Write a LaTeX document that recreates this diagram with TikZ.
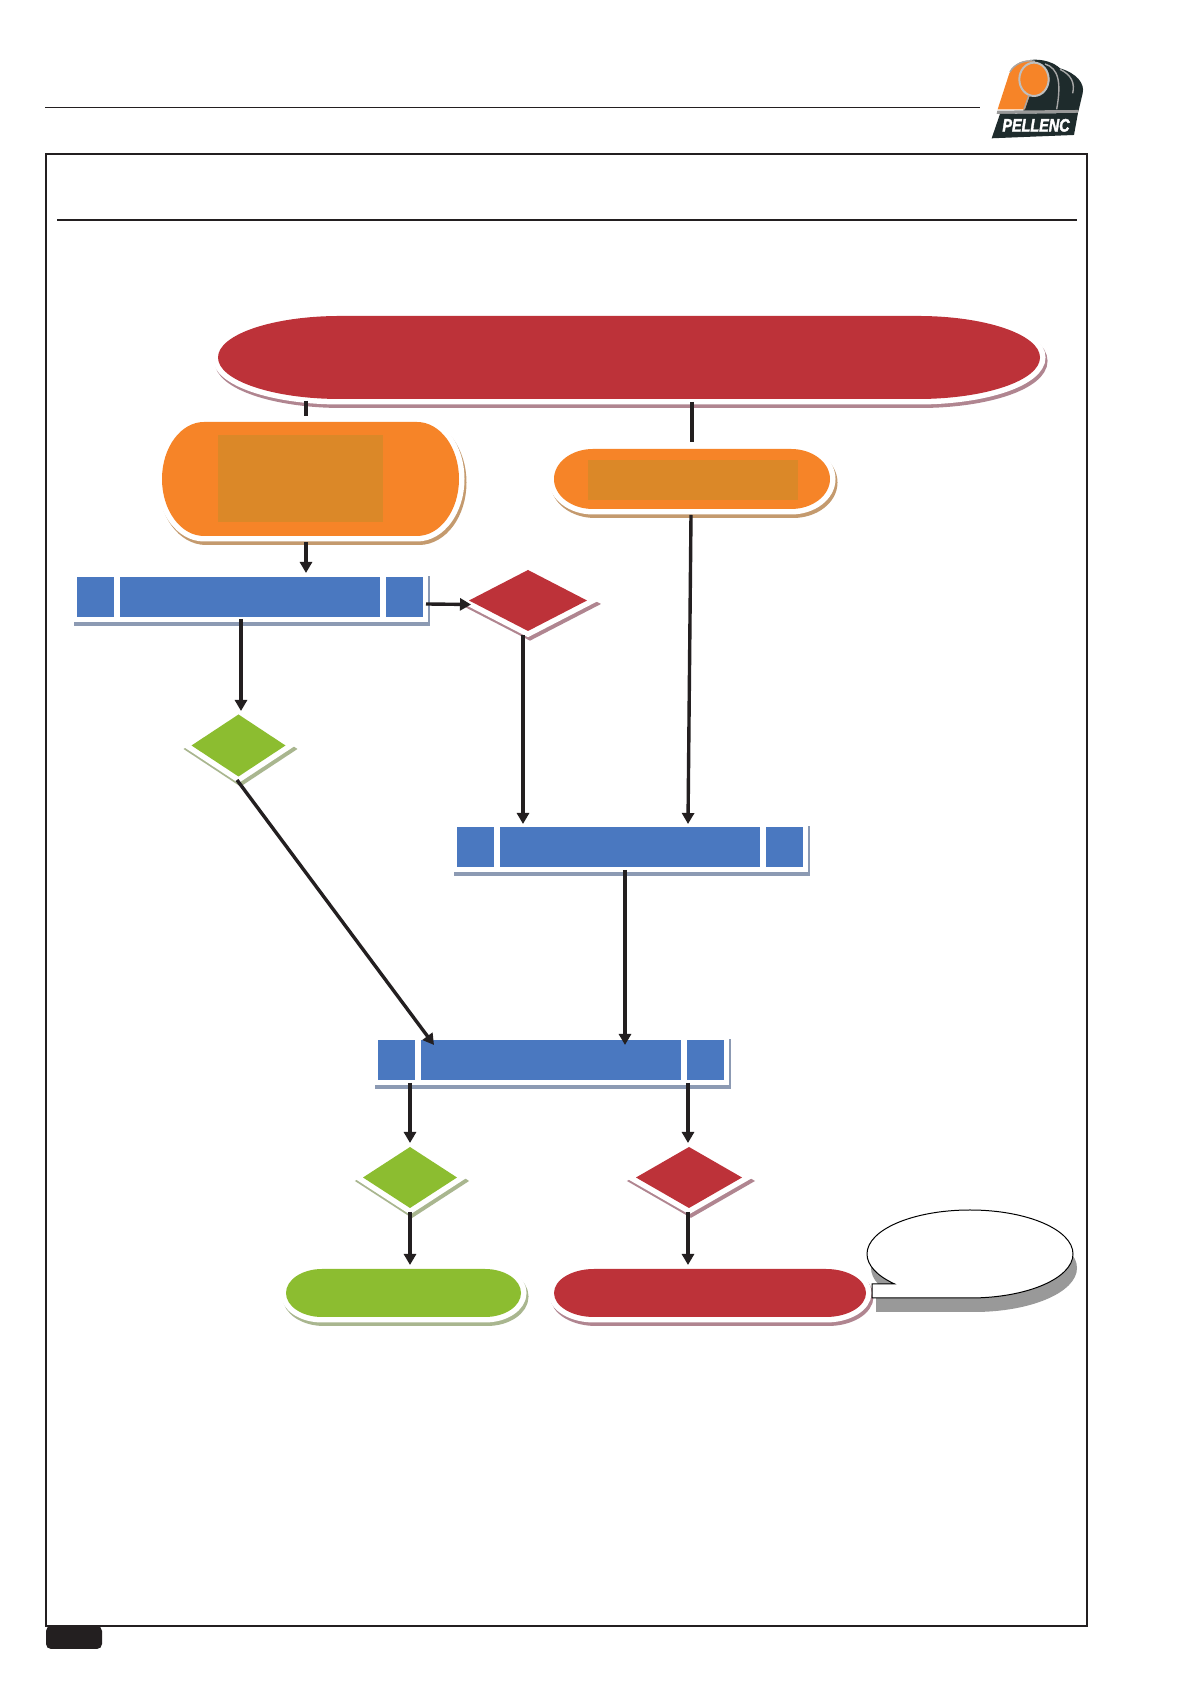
\documentclass[tikz,border=0pt]{standalone}
\usepackage{fontspec}
\setsansfont{Liberation Sans}
\newfontfamily\logofont{Liberation Sans}[BoldItalicFeatures={FakeBold=2.5}]
\usepackage{xcolor}
\definecolor{pelred}{HTML}{BD3239}
\definecolor{pelorange}{HTML}{F68428}
\definecolor{pelamber}{HTML}{DB8828}
\definecolor{pelblue}{HTML}{4A78C0}
\definecolor{pelgreen}{HTML}{8CBD30}
\definecolor{pelink}{HTML}{231F20}
\definecolor{logodark}{HTML}{1E2B2C}
\definecolor{redshade}{HTML}{B08590}
\definecolor{orangeshade}{HTML}{C49A6E}
\definecolor{blueshade}{HTML}{8C9AB3}
\definecolor{greenshade}{HTML}{A9B68F}
\usetikzlibrary{positioning,arrows.meta,shapes.geometric}
\tikzset{
  halo/.style ={preaction={draw=#1, fill=#1, line width=11pt, transform canvas={shift={(2pt,-3.5pt)}}},
                preaction={draw=white, fill=white, line width=11pt}},
  dmd/.style  ={diamond, inner sep=0pt, outer sep=0pt, aspect=2},
  barback/.style={rectangle, fill=white, minimum width=356pt, minimum height=50pt, inner sep=0pt,
                outer sep=0pt, preaction={fill=blueshade, transform canvas={shift={(2pt,-4pt)}}}},
  barcell/.style={rectangle, fill=pelblue, minimum height=40pt, inner sep=0pt, outer sep=0pt},
  patch/.style={rectangle, fill=pelamber, inner sep=0pt, outer sep=0pt},
  arr/.style  ={-{Triangle[length=11pt,width=12pt]}, line width=3.4pt, draw=pelink},
  stub/.style ={line width=3.6pt, draw=pelink},
  rule/.style ={line width=1.7pt, draw=pelink},
  logoline/.style={line width=1.4pt, draw=black!35},
}
% name, centre, width, height, end radius, fill, shade
\newcommand{\pillnode}[7]{
  \pgfmathsetmacro{\pillx}{#3/2-#5}
  \pgfmathsetmacro{\pilly}{#4/2}
  \path[shift={(#2)}, fill=#6, halo=#7] (-\pillx,\pilly) -- (\pillx,\pilly)
    arc[start angle=90, end angle=-90, x radius=#5, y radius=\pilly]
    -- (-\pillx,-\pilly)
    arc[start angle=270, end angle=90, x radius=#5, y radius=\pilly] -- cycle;
  \node[rectangle, inner sep=0pt, outer sep=0pt, minimum width=#3pt, minimum height=#4pt] (#1) at (#2) {};
}
\begin{document}
\begin{tikzpicture}[x=1pt,y=1pt]
  \useasboundingbox[fill=white] (0,0) rectangle (1190,1684);
  % page furniture
  \draw[rule] (45,1576.5) -- (980,1576.5);
  \draw[rule] (46,58) rectangle (1087,1530);
  \draw[rule] (57,1464) -- (1077,1464);
  \fill[pelink, rounded corners=5pt] (46,58) -- (46,35) -- (102,35) -- (102,58) -- cycle;
  % logo
  \begin{scope}[shift={(960,1644)},x=0.3333pt,y=-0.3333pt]
    \fill[logodark] (210,60) .. controls (250,55) and (285,70) .. (300,85)
      .. controls (350,100) and (375,130) .. (368,160) -- (355,215) -- (190,215) -- cycle;
    \draw[logoline] (255,72) .. controls (295,85) and (305,125) .. (290,208);
    \draw[logoline] (300,88) .. controls (335,105) and (345,130) .. (338,160);
    \fill[pelorange] (113,208) -- (148,100) .. controls (160,70) and (195,55) .. (225,65)
      .. controls (250,72) and (270,95) .. (268,125) -- (208,170) -- (195,208) -- cycle;
    \draw[logoline] (150,96) .. controls (162,72) and (195,58) .. (225,64);
    \draw[line width=2pt, draw=black!25, fill=pelorange] (222,118) ellipse [x radius=44, y radius=50];
    \draw[logoline] (207,166) -- (192,208);
    \fill[black!40] (112,212) -- (356,210) -- (354,219) -- (110,222) -- cycle;
    \fill[logodark] (120,222) -- (354,219) -- (342,285) -- (95,295) -- cycle;
    \node[font=\logofont\bfseries\itshape\fontsize{18}{18}\selectfont, text=white, xscale=.8, inner sep=0pt] (logotext) at (228,256) {PELLENC};
  \end{scope}
  % terminators
  \pillnode{plan}{629,1326.5}{822}{83}{122}{pelred}{redshade}
  \pillnode{orangea}{310.5,1205}{297}{114}{42}{pelorange}{orangeshade}
  \pillnode{orangeb}{692,1205}{276}{60}{39}{pelorange}{orangeshade}
  \pillnode{greenend}{403.5,391}{235}{48}{36}{pelgreen}{greenshade}
  \pillnode{redend}{710,391}{312}{48}{40}{pelred}{redshade}
  \node[patch, minimum width=165pt, minimum height=87pt] (patcha) at (300.5,1205.5) {};
  \node[patch, minimum width=210pt, minimum height=40pt] (patchb) at (693,1204) {};
  % predefined process bars
  \node[barback] (bara) at (250,1087) {};
  \node[barcell, minimum width=37pt, right=5pt of bara.west] (baraa) {};
  \node[barcell, minimum width=260pt, right=6pt of baraa] (barab) {};
  \node[barcell, minimum width=37pt, right=6pt of barab] (barac) {};
  \node[barback] (barb) at (630,837) {};
  \node[barcell, minimum width=37pt, right=5pt of barb.west] (barba) {};
  \node[barcell, minimum width=260pt, right=6pt of barba] (barbb) {};
  \node[barcell, minimum width=37pt, right=6pt of barbb] (barbc) {};
  \node[barback] (barc) at (551,624) {};
  \node[barcell, minimum width=37pt, right=5pt of barc.west] (barca) {};
  \node[barcell, minimum width=260pt, right=6pt of barca] (barcb) {};
  \node[barcell, minimum width=37pt, right=6pt of barcb] (barcc) {};
  % decisions
  \node[dmd, fill=pelred, halo=redshade, minimum width=118pt, minimum height=61pt] (reda) at (528,1083.5) {};
  \node[dmd, fill=pelgreen, halo=greenshade, minimum width=94pt, minimum height=62pt] (greena) at (238.5,938.5) {};
  \node[dmd, fill=pelgreen, halo=greenshade, minimum width=94pt, minimum height=61pt] (greenb) at (410,506.5) {};
  \node[dmd, fill=pelred, halo=redshade, minimum width=106pt, minimum height=61pt] (redb) at (689,506.5) {};
  % callout
  \draw[line width=1pt, draw=black, fill=white, preaction={fill=black!40, transform canvas={shift={(4pt,-14pt)}}}]
    (872,386) -- (970,386) arc[start angle=-90, end angle=222.7, x radius=103, y radius=44]
    -- (872,400) -- cycle;
  % connectors
  \draw[stub] ([xshift=-323pt,yshift=-2pt]plan.south) -- ([xshift=-4.5pt,yshift=6pt]orangea.north);
  \draw[stub] ([xshift=63pt,yshift=-3pt]plan.south) -- ([yshift=7pt]orangeb.north);
  \draw[arr] ([xshift=-4.5pt,yshift=-6pt]orangea.south) -- ([xshift=56pt,yshift=-1pt]bara.north);
  \draw[arr] ([xshift=-9pt,yshift=3pt]bara.south) -- ([xshift=2.5pt,yshift=3.5pt]greena.north);
  \draw[arr] ([xshift=-2pt,yshift=-7pt]bara.east) -- ([xshift=2pt,yshift=-4pt]reda.west);
  \draw[arr] ([xshift=-5pt,yshift=-4pt]reda.south) -- ([xshift=-107pt,yshift=-2pt]barb.north);
  \draw[arr] ([xshift=-1pt,yshift=-6pt]orangeb.south) -- ([xshift=58pt,yshift=-2pt]barb.north);
  \draw[arr] ([xshift=-5pt,yshift=2pt]barb.south) -- ([xshift=74pt,yshift=-10pt]barc.north);
  \draw[arr] ([xshift=-1.5pt,yshift=-3.5pt]greena.south) -- ([xshift=-117pt,yshift=-10pt]barc.north);
  \draw[arr] ([xshift=-141pt,yshift=2pt]barc.south) -- ([yshift=4pt]greenb.north);
  \draw[arr] ([xshift=137pt,yshift=2pt]barc.south) -- ([xshift=-1pt,yshift=4pt]redb.north);
  \draw[arr] ([yshift=-4pt]greenb.south) -- ([xshift=6.5pt,yshift=4pt]greenend.north);
  \draw[arr] ([xshift=-1pt,yshift=-4pt]redb.south) -- ([xshift=-22pt,yshift=4pt]redend.north);
\end{tikzpicture}
\end{document}
